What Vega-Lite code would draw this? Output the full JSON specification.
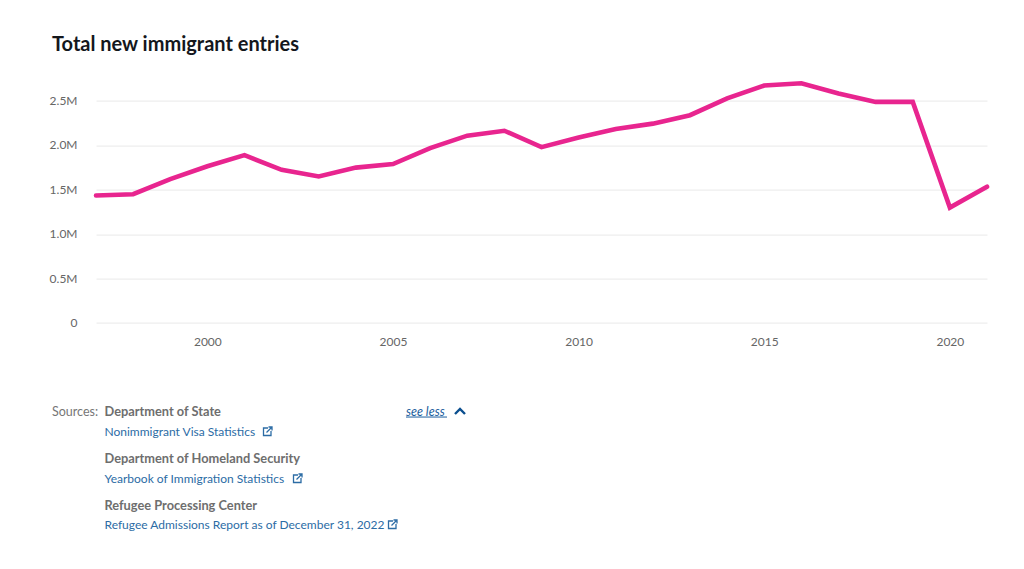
{"$schema":"https://vega.github.io/schema/vega-lite/v6.json","width":891,"height":266.4,"autosize":"none","padding":{"left":96,"top":56.6,"right":37,"bottom":246},"background":"white",
"title":{"text":"Total new immigrant entries","anchor":"start","frame":"group","dx":-44,"offset":2,"font":"Lato","fontSize":20,"fontWeight":700,"color":"#14171c"},
"config":{"view":{"stroke":null},"font":"Lato"},
"datasets":{"series":[{"year":1997,"entries":1436000},{"year":1998,"entries":1450000},{"year":1999,"entries":1620000},{"year":2000,"entries":1765000},{"year":2001,"entries":1890000},{"year":2002,"entries":1725000},{"year":2003,"entries":1650000},{"year":2004,"entries":1750000},{"year":2005,"entries":1790000},{"year":2006,"entries":1970000},{"year":2007,"entries":2110000},{"year":2008,"entries":2165000},{"year":2009,"entries":1980000},{"year":2010,"entries":2090000},{"year":2011,"entries":2185000},{"year":2012,"entries":2245000},{"year":2013,"entries":2340000},{"year":2014,"entries":2530000},{"year":2015,"entries":2675000},{"year":2016,"entries":2700000},{"year":2017,"entries":2585000},{"year":2018,"entries":2490000},{"year":2019,"entries":2490000},{"year":2020,"entries":1300000},{"year":2021,"entries":1535000}],
"notes":[{"col":1,"line":1,"kind":"label","text":"Sources:"},{"col":2,"line":1,"kind":"head","text":"Department of State"},{"col":2,"line":2,"kind":"link","text":"Nonimmigrant Visa Statistics"},{"col":2,"line":3,"kind":"head","text":"Department of Homeland Security"},{"col":2,"line":4,"kind":"link","text":"Yearbook of Immigration Statistics"},{"col":2,"line":5,"kind":"head","text":"Refugee Processing Center"},{"col":2,"line":6,"kind":"link","text":"Refugee Admissions Report as of December 31, 2022"},{"col":6,"line":1,"kind":"toggle","text":"see less"}],
"icons":[{"col":3,"line":2},{"col":4,"line":4},{"col":5,"line":6}],"underline":[{"col":7,"line":1}],"chevron":[{"col":8,"line":1}]},
"layer":[
{"data":{"name":"series"},"mark":{"type":"line","color":"#e8258f","strokeWidth":4.6,"strokeCap":"round","strokeJoin":"miter","clip":false},
"encoding":{"x":{"field":"year","type":"quantitative","scale":{"domain":[1997,2021],"nice":false,"zero":false},"axis":{"title":null,"values":[2000,2005,2010,2015,2020],"format":"d","grid":false,"ticks":false,"domain":false,"labelFont":"Lato","labelFontSize":12,"labelColor":"#666666","labelPadding":13}},
"y":{"field":"entries","type":"quantitative","scale":{"domain":[0,3000000],"nice":false},"axis":{"title":null,"values":[0,500000,1000000,1500000,2000000,2500000],"labelExpr":"datum.value==0?'0':format(datum.value/1000000,'.1f')+'M'","grid":true,"gridColor":"#e9e9e9","gridWidth":1,"ticks":false,"domain":false,"labelFont":"Lato","labelFontSize":12,"labelColor":"#666666","labelPadding":19,"labelOffset":-0.5}}}},
{"data":{"name":"notes"},"transform":[{"filter":"datum.kind=='label'"}],"mark":{"type":"text","align":"left","baseline":"middle","font":"Lato","fontSize":12.5,"color":"#767676"},
"encoding":{"x":{"field":"col","type":"quantitative","scale":{"domain":[1,2,3,4,5,6,7,8],"range":[-44,8.5,171.5,201.5,296.5,310,330.5,364]},"axis":null},"y":{"field":"line","type":"quantitative","scale":{"domain":[1,2,3,4,5,6],"range":[354.9,374.9,401.9,421.9,448.9,467.9]},"axis":null},"text":{"field":"text"}}},
{"data":{"name":"notes"},"transform":[{"filter":"datum.kind=='link'"}],"mark":{"type":"text","align":"left","baseline":"middle","font":"Lato","fontSize":12,"color":"#2c6ca5"},
"encoding":{"x":{"field":"col","type":"quantitative","scale":{"domain":[1,2,3,4,5,6,7,8],"range":[-44,8.5,171.5,201.5,296.5,310,330.5,364]},"axis":null},"y":{"field":"line","type":"quantitative","scale":{"domain":[1,2,3,4,5,6],"range":[354.9,374.9,401.9,421.9,448.9,467.9]},"axis":null},"text":{"field":"text"}}},
{"data":{"name":"notes"},"transform":[{"filter":"datum.kind=='toggle'"}],"mark":{"type":"text","align":"left","baseline":"middle","font":"Lato","fontSize":12.5,"fontStyle":"italic","color":"#1d5f9e"},
"encoding":{"x":{"field":"col","type":"quantitative","scale":{"domain":[1,2,3,4,5,6,7,8],"range":[-44,8.5,171.5,201.5,296.5,310,330.5,364]},"axis":null},"y":{"field":"line","type":"quantitative","scale":{"domain":[1,2,3,4,5,6],"range":[354.9,374.9,401.9,421.9,448.9,467.9]},"axis":null},"text":{"field":"text"}}},
{"data":{"name":"notes"},"transform":[{"filter":"datum.kind=='head'"}],"mark":{"type":"text","align":"left","baseline":"middle","font":"Lato","fontSize":12.8,"fontWeight":700,"color":"#6e6e6e"},
"encoding":{"x":{"field":"col","type":"quantitative","scale":{"domain":[1,2,3,4,5,6,7,8],"range":[-44,8.5,171.5,201.5,296.5,310,330.5,364]},"axis":null},"y":{"field":"line","type":"quantitative","scale":{"domain":[1,2,3,4,5,6],"range":[354.9,374.9,401.9,421.9,448.9,467.9]},"axis":null},"text":{"field":"text"}}},
{"data":{"name":"icons"},"mark":{"type":"point","filled":false,"stroke":"#2c6ca5","strokeWidth":1.3,"size":100,"opacity":1,"shape":"M0.1,-0.7H-0.8V0.8H0.7V-0.1M-0.2,0.2L0.9,-0.9M0.2,-0.9H0.9V-0.2"},
"encoding":{"x":{"field":"col","type":"quantitative","scale":{"domain":[1,2,3,4,5,6,7,8],"range":[-44,8.5,171.5,201.5,296.5,310,330.5,364]},"axis":null},"y":{"field":"line","type":"quantitative","scale":{"domain":[1,2,3,4,5,6],"range":[354.9,374.9,401.9,421.9,448.9,467.9]},"axis":null}}},
{"data":{"name":"underline"},"mark":{"type":"point","filled":false,"stroke":"#1d5f9e","strokeWidth":1,"size":1681,"opacity":1,"shape":"M-1,0.27L1,0.27"},
"encoding":{"x":{"field":"col","type":"quantitative","scale":{"domain":[1,2,3,4,5,6,7,8],"range":[-44,8.5,171.5,201.5,296.5,310,330.5,364]},"axis":null},"y":{"field":"line","type":"quantitative","scale":{"domain":[1,2,3,4,5,6],"range":[354.9,374.9,401.9,421.9,448.9,467.9]},"axis":null}}},
{"data":{"name":"chevron"},"mark":{"type":"point","filled":false,"stroke":"#0b4f8f","strokeWidth":2.4,"size":100,"opacity":1,"shape":"M-1,0.5L0,-0.5L1,0.5"},
"encoding":{"x":{"field":"col","type":"quantitative","scale":{"domain":[1,2,3,4,5,6,7,8],"range":[-44,8.5,171.5,201.5,296.5,310,330.5,364]},"axis":null},"y":{"field":"line","type":"quantitative","scale":{"domain":[1,2,3,4,5,6],"range":[354.9,374.9,401.9,421.9,448.9,467.9]},"axis":null}}}
],
"resolve":{"scale":{"x":"independent","y":"independent","color":"independent"}}}
